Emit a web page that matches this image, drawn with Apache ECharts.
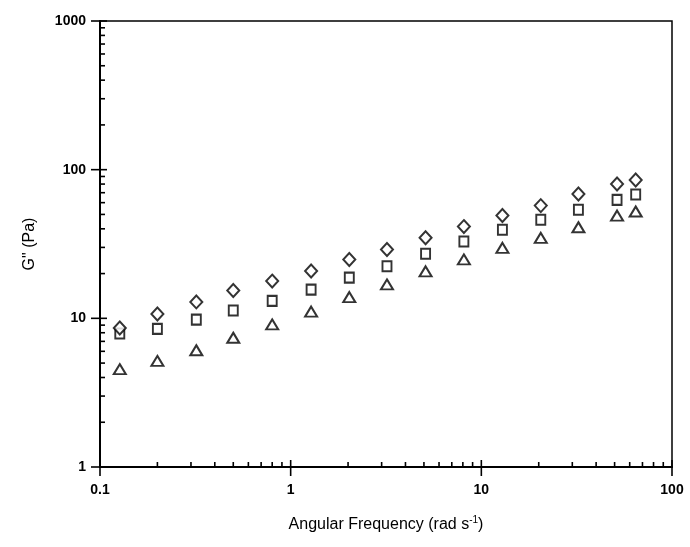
<!DOCTYPE html>
<html>
<head>
<meta charset="utf-8">
<script src="https://cdn.jsdelivr.net/npm/echarts@6/dist/echarts.min.js"></script>
<style>
  html, body { margin: 0; padding: 0; background: #fff; }
  #chart { width: 690px; height: 547px; }
</style>
</head>
<body>
<div id="chart"></div>
<script>
// Angular frequency (rad/s) of each measurement
const frequency = [0.127, 0.2, 0.32, 0.5, 0.8, 1.28, 2.03, 3.2, 5.1, 8.1, 12.9, 20.5, 32.3, 51.5, 64.5];

// Loss modulus G'' (Pa) for the three samples
const gDiamond  = [8.6, 10.7, 12.9, 15.4, 17.8, 20.8, 24.9, 29.0, 34.8, 41.4, 49.1, 57.3, 68.7, 80.2, 85.3];
const gSquare   = [7.9, 8.5, 9.8, 11.3, 13.1, 15.6, 18.8, 22.4, 27.2, 32.9, 39.4, 46.0, 53.7, 62.6, 68.0];
const gTriangle = [4.55, 5.17, 6.1, 7.4, 9.1, 11.1, 13.9, 16.9, 20.7, 24.9, 29.8, 34.8, 41.0, 49.1, 52.3];

// Axis ranges and tick positions
const xMin = 0.1, xMax = 100;
const yMin = 1, yMax = 1000;
const xMajorTicks = [0.1, 1, 10, 100];
const yMajorTicks = [1, 10, 100, 1000];
const xMinorTicks = [0.2, 0.3, 0.4, 0.5, 0.6, 0.7, 0.8, 0.9, 2, 3, 4, 5, 6, 7, 8, 9, 20, 30, 40, 50, 60, 70, 80, 90];
const yMinorTicks = [2, 3, 4, 5, 6, 7, 8, 9, 20, 30, 40, 50, 60, 70, 80, 90, 200, 300, 400, 500, 600, 700, 800, 900];

const FONT = '"Liberation Sans", Arial, sans-serif';

const chart = echarts.init(document.getElementById('chart'));

function pairs(xs, ys) { return xs.map((x, i) => [x, ys[i]]); }

// Tick mark drawn on the x axis: inward length `inn`, outward length `out`
function xTickRenderer(inn, out) {
  return function (params, api) {
    const p = api.coord([api.value(0), yMin]);
    return {
      type: 'line',
      shape: { x1: p[0], y1: p[1] + out, x2: p[0], y2: p[1] - inn },
      style: { stroke: '#000', lineWidth: 1.6 }
    };
  };
}
// Tick mark drawn on the y axis
function yTickRenderer(inn, out) {
  return function (params, api) {
    const p = api.coord([xMin, api.value(1)]);
    return {
      type: 'line',
      shape: { x1: p[0] - out, y1: p[1], x2: p[0] + inn, y2: p[1] },
      style: { stroke: '#000', lineWidth: 1.6 }
    };
  };
}

function tickSeries(data, renderer) {
  return {
    type: 'custom',
    data: data,
    renderItem: renderer,
    clip: false,
    silent: true,
    z: 5,
    encode: { x: 0, y: 1 }
  };
}

function scatter(data, symbol, size) {
  return {
    type: 'scatter',
    data: data,
    symbol: symbol,
    symbolSize: size,
    itemStyle: { color: '#000', borderColor: '#000', borderWidth: 1.5 },
    z: 3,
    silent: true
  };
}

chart.setOption({
  animation: false,
  backgroundColor: '#fff',
  grid: {
    left: 100, right: 18, top: 21, bottom: 80,
    show: true, borderColor: '#000', borderWidth: 1.5, backgroundColor: 'transparent'
  },
  xAxis: {
    type: 'log',
    logBase: 10,
    min: xMin, max: xMax,
    name: 'Angular Frequency (rad s{sup|-1})',
    nameLocation: 'middle',
    nameGap: 48,
    nameTextStyle: {
      fontFamily: FONT, fontSize: 16, color: '#000', lineHeight: 20,
      rich: { sup: { fontFamily: FONT, fontSize: 10, color: '#000', verticalAlign: 'top', lineHeight: 20, padding: [0, 0, 8, 0] } }
    },
    axisLine: { show: true, lineStyle: { color: '#000', width: 2 } },
    axisTick: { show: false },
    splitLine: { show: false },
    axisLabel: {
      fontFamily: FONT, fontSize: 14, fontWeight: 'bold', color: '#000', margin: 16,
      formatter: v => String(v)
    }
  },
  yAxis: {
    type: 'log',
    logBase: 10,
    min: yMin, max: yMax,
    name: 'G" (Pa)',
    nameLocation: 'middle',
    nameGap: 62,
    nameTextStyle: { fontFamily: FONT, fontSize: 16, color: '#000' },
    axisLine: { show: true, lineStyle: { color: '#000', width: 2 } },
    axisTick: { show: false },
    splitLine: { show: false },
    axisLabel: {
      fontFamily: FONT, fontSize: 14, fontWeight: 'bold', color: '#000', margin: 14,
      formatter: v => String(v)
    }
  },
  series: [
    scatter(pairs(frequency, gTriangle), 'emptyTriangle', [12, 10]),
    scatter(pairs(frequency, gSquare), 'emptyRect', [9, 10]),
    scatter(pairs(frequency, gDiamond), 'emptyDiamond', [12, 13]),
    tickSeries(xMajorTicks.map(v => [v, yMin]), xTickRenderer(7, 9)),
    tickSeries(xMinorTicks.map(v => [v, yMin]), xTickRenderer(5, 0)),
    tickSeries(yMajorTicks.map(v => [xMin, v]), yTickRenderer(7, 9)),
    tickSeries(yMinorTicks.map(v => [xMin, v]), yTickRenderer(5, 0))
  ]
});
</script>
</body>
</html>
